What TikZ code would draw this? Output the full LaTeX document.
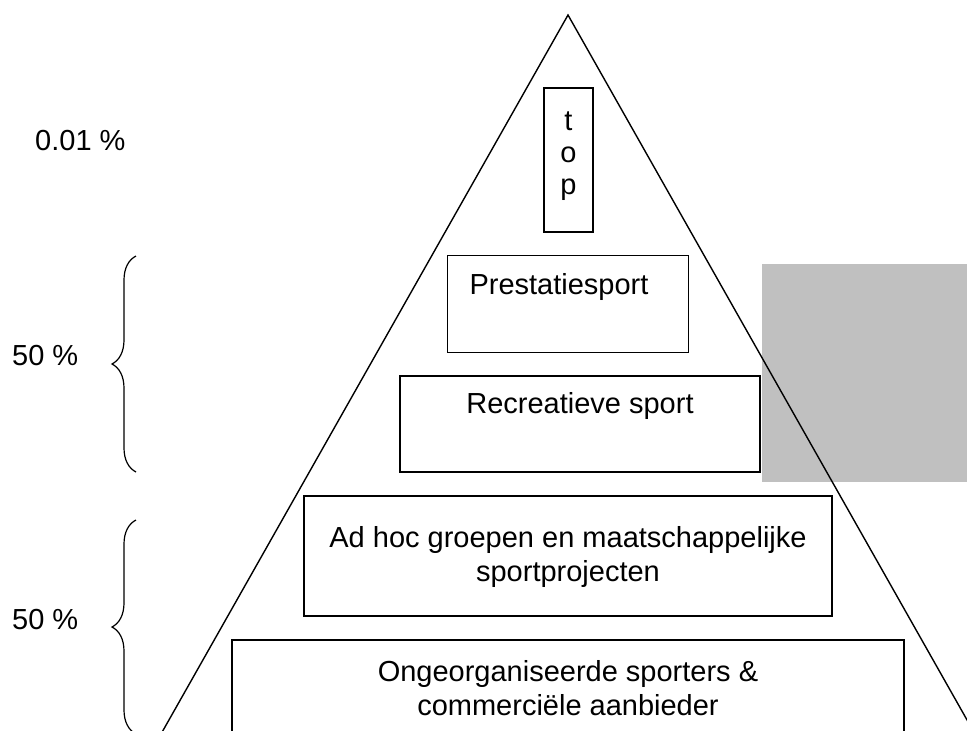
\documentclass[tikz,border=0pt]{standalone}
\usepackage{fontspec}
\setmainfont{Liberation Sans}
\usetikzlibrary{decorations.pathreplacing}
\definecolor{panelgray}{RGB}{192,192,192}
\tikzset{box/.style={draw, line width=1.4pt, inner sep=0pt},
lbl/.style={font=\fontsize{29}{34}\selectfont, align=center, inner sep=0pt},
curly/.style={decorate, decoration={brace, amplitude=24pt}, line width=1.2pt}}

\begin{document}
\begin{tikzpicture}[x=1pt, y=-1pt]
\useasboundingbox (0,0) rectangle (967,731);
\clip (0,0) rectangle (967,731);
\fill[panelgray] (762,264) rectangle (967,482);
\coordinate (apex) at (568,15);
\coordinate (footl) at (146.3,760);
\coordinate (footr) at (989.7,760);
\draw[line width=1.4pt] (footl) -- (apex) -- (footr);
% layers of the pyramid
\node[box, minimum width=49pt, minimum height=144pt] (top) at (568.5,160) {};
\node[box, minimum width=241pt, minimum height=97pt] (prest) at (568,304) {};
\node[box, minimum width=360pt, minimum height=96pt] (recr) at (580,424) {};
\node[box, minimum width=528pt, minimum height=120pt] (adhoc) at (568,556) {};
\node[box, minimum width=672pt, minimum height=160pt] (base) at (568,720) {};
\node[lbl, font=\fontsize{29}{32}\selectfont] (toptxt) at (568.5,156) {t\\o\\p};
\node[lbl, anchor=base] (presttxt) at (559,294) {Prestatiesport};
\node[lbl, anchor=base] (recrtxt) at (580,413) {Recreatieve sport};
\node[lbl] (adhoctxt) at (568,557) {Ad hoc groepen en maatschappelijke\\sportprojecten};
\node[lbl] (basetxt) at (568,688) {Ongeorganiseerde sporters \&\\commerciële aanbieder};
% shares
\node[lbl, anchor=base west] (pcttop) at (35,150) {0.01 \%};
\node[lbl, anchor=base west] (pctmid) at (12,365) {50 \%};
\node[lbl, anchor=base west] (pctlow) at (12,629) {50 \%};
\coordinate (midlo) at (136,472);
\coordinate (midhi) at (136,256);
\coordinate (lowlo) at (136,734);
\coordinate (lowhi) at (136,520);
\draw[curly] (midlo) -- (midhi);
\draw[curly] (lowlo) -- (lowhi);
\end{tikzpicture}
\end{document}
